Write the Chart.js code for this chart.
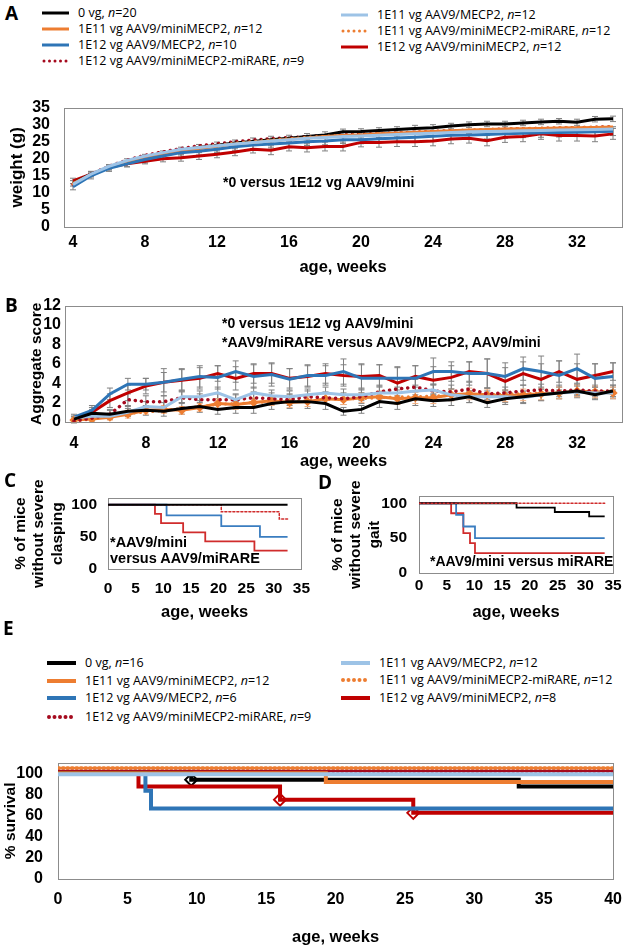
<!DOCTYPE html>
<html>
<head>
<meta charset="utf-8">
<script src="https://cdn.jsdelivr.net/npm/chart.js@4.4.1/dist/chart.umd.min.js"></script>
<style>
  body { margin: 0; background: #fff; }
  #fig { position: relative; width: 633px; height: 947px; overflow: hidden; background: #fff; }
  #fig canvas { position: absolute; }
  .letter { position: absolute; font-family: "Open Sans", sans-serif; font-weight: bold; font-size: 19px; line-height: 22px; }
  .leg { position: absolute; font-family: "Open Sans", sans-serif; font-size: 12.5px; line-height: 16px; white-space: nowrap; }
  .leg svg { position: absolute; }
  .note { position: absolute; font-family: "Liberation Sans", Arial, sans-serif; font-weight: bold; font-size: 14px; line-height: 16px; white-space: nowrap; }
</style>
</head>
<body>
<div id="fig"></div>
<script>
// series: 0 vg, 1E11 mini, 1E12 MECP2, 1E12 miRARE, 1E11 MECP2, 1E11 miRARE, 1E12 mini
const seriesNames = ["0 vg", "1E11 vg AAV9/miniMECP2", "1E12 vg AAV9/MECP2", "1E12 vg AAV9/miniMECP2-miRARE",
                     "1E11 vg AAV9/MECP2", "1E11 vg AAV9/miniMECP2-miRARE", "1E12 vg AAV9/miniMECP2"];
const nWeight = [20, 12, 10, 9, 12, 12, 12];
const nSurvival = [16, 12, 6, 9, 12, 12, 8];
const seriesColors = ["#000000", "#ED7D31", "#2E75B6", "#A50A1E", "#9DC3E6", "#ED7D31", "#C00000"];
const seriesDotted = [false, false, false, true, false, true, false];

// A: weight (g), weeks 4..34
const weeks = [4,5,6,7,8,9,10,11,12,13,14,15,16,17,18,19,20,21,22,23,24,25,26,27,28,29,30,31,32,33,34];
const weekTicks = [4, 8, 12, 16, 20, 24, 28, 32];
const weightTicks = [0, 5, 10, 15, 20, 25, 30, 35];
const wBlack = [12.8,15.5,17.5,19.2,20.5,21.5,22.5,23.3,24.0,24.6,25.1,25.6,26.0,26.5,27.0,27.9,28.0,28.3,28.6,28.9,29.1,29.6,30.0,30.2,30.2,30.5,30.8,31.0,30.7,31.6,31.7];
const wOrange = [12.8,15.3,17.5,19.0,20.3,21.3,22.3,23.0,23.7,24.3,24.8,25.3,25.7,26.1,26.5,26.8,27.0,27.3,27.5,27.8,28.0,28.2,28.4,28.6,28.7,28.8,28.9,29.0,29.1,29.2,29.3];
const wBlue = [11.8,15.0,17.2,18.5,19.8,20.8,21.8,22.2,22.8,23.5,24.0,24.3,24.6,25.0,25.2,25.6,25.6,25.9,26.1,26.3,26.6,26.9,27.0,27.1,27.3,27.5,27.6,27.7,27.8,27.9,28.1];
const wDotRed = [12.5,15.5,17.8,19.6,21.0,22.0,23.0,23.8,24.4,25.0,25.5,25.9,26.2,26.5,26.8,27.0,27.2,27.4,27.6,27.8,28.0,28.2,28.3,28.5,28.7,28.8,28.9,29.0,29.1,29.2,29.4];
const wLightBlue = [12.5,15.5,17.8,19.5,20.8,21.8,22.8,23.3,23.8,24.3,24.8,25.2,25.6,26.0,26.2,26.5,26.7,26.9,27.1,27.3,27.5,27.7,27.9,28.0,28.1,28.2,28.3,28.4,28.5,28.6,28.7];
const wDotOrange = [12.6,15.4,17.6,19.3,20.6,21.6,22.6,23.4,24.0,24.6,25.1,25.5,25.9,26.3,26.6,26.9,27.1,27.4,27.6,27.8,28.0,28.2,28.4,28.6,28.7,28.9,29.0,29.1,29.2,29.3,29.4];
const wRed = [13.5,15.5,17.5,18.5,19.3,20.0,20.3,20.8,21.3,22.0,22.8,22.5,23.5,23.2,23.6,23.6,24.8,24.8,25.0,25.0,25.2,25.8,26.0,25.3,26.3,26.5,27.3,26.8,26.8,26.7,27.3];
const wErrBlack = [0.8,0.8,0.7,0.8,0.8,0.8,0.9,0.9,0.9,0.9,1.0,1.0,0.9,0.9,0.9,0.8,0.8,0.8,0.8,0.9,0.9,0.8,0.8,0.8,0.8,0.8,0.8,0.8,0.9,0.8,0.8];
const wErrBlue = [0.9,0.9,0.9,0.9,1.0,1.0,1.0,1.1,1.0,1.0,1.0,1.1,1.1,1.1,1.1,1.1,1.2,1.2,1.2,1.2,1.2,1.3,1.3,1.3,1.3,1.3,1.3,1.3,1.3,1.3,1.3];
const wErrRed = [0.8,0.8,0.8,0.8,0.8,0.9,1.0,1.0,1.0,1.1,1.1,1.3,1.2,1.2,1.3,1.3,1.3,1.4,1.4,1.4,1.4,1.4,1.4,1.5,1.5,1.5,1.6,1.6,1.6,1.7,1.6];

// B: aggregate score, weeks 4..34
const scoreTicks = [0, 2, 4, 6, 8, 10, 12];
const sBlack = [0.3,0.9,0.8,1.1,1.2,1.1,1.4,1.6,1.3,1.5,1.5,1.9,2.1,2.1,1.9,1.1,1.3,2.1,1.9,2.4,2.2,2.3,2.6,2.0,2.4,2.6,2.8,3.0,3.2,2.8,3.2];
const sOrange = [0.2,0.3,0.5,0.8,1.2,1.3,1.2,1.5,1.9,1.8,2.0,2.2,2.0,2.1,2.4,2.3,2.5,2.6,2.4,2.5,2.5,2.8,2.9,2.8,2.7,2.8,2.9,3.0,3.2,3.1,3.0];
const sBlue = [0.5,1.2,2.9,3.9,3.9,4.1,4.4,4.7,4.6,5.2,4.7,4.9,4.4,4.8,4.8,5.2,4.5,4.5,4.5,4.5,5.2,5.2,5.0,5.0,4.7,5.5,5.2,4.8,5.5,4.5,4.7];
const sDotRed = [0.1,0.4,0.8,2.3,2.1,2.1,2.5,2.3,2.3,2.3,2.5,2.4,2.3,2.6,2.5,2.4,2.6,3.1,3.4,3.6,3.2,3.1,3.4,2.9,3.0,3.2,3.3,3.2,3.3,3.2,3.2];
const sLightBlue = [0.4,0.6,0.6,1.0,1.6,1.5,2.6,2.6,3.0,2.3,3.0,2.7,2.6,2.8,3.0,2.8,2.8,3.0,3.0,3.2,3.3,2.8,2.6,2.6,2.6,2.5,2.8,3.0,3.1,3.0,3.0];
const sDotOrange = [0.1,0.3,0.6,0.9,1.0,1.2,1.4,1.6,1.8,1.9,2.0,2.1,2.2,2.2,2.3,2.4,2.4,2.5,2.6,2.6,2.7,2.7,2.8,2.8,2.9,2.9,3.0,3.0,3.1,3.1,3.2];
const sRed = [0.3,1.0,2.2,3.0,3.7,4.1,4.3,4.5,5.0,4.5,5.0,5.0,4.5,4.7,5.0,4.8,4.7,4.8,4.0,4.7,4.3,4.6,5.2,5.0,4.2,5.0,4.4,5.2,4.4,4.8,5.2];
const sErrBlack = [0.2,0.4,0.4,0.5,0.5,0.5,0.6,0.6,0.5,0.6,0.6,0.6,0.7,0.7,0.6,0.4,0.4,0.6,0.6,0.7,0.6,0.6,0.6,0.5,0.6,0.6,0.6,0.6,0.6,0.5,0.6];
const sErrOrange = [0.2,0.2,0.3,0.4,0.4,0.4,0.4,0.4,0.5,0.5,0.5,0.5,0.5,0.5,0.5,0.5,0.5,0.6,0.6,0.6,0.6,0.6,0.6,0.6,0.6,0.6,0.6,0.6,0.6,0.6,0.6];
const sErrBlue = [0.3,0.5,0.6,0.6,0.6,1.4,1.1,1.1,1.2,1.1,1.2,1.2,1.1,1.1,1.0,1.3,1.5,1.4,1.2,1.3,1.4,1.0,1.2,1.5,1.4,1.2,1.6,1.5,1.5,1.5,1.4];
const sErrDotRed = [0.2,0.3,0.5,0.6,0.6,0.6,0.6,0.6,0.6,0.6,0.6,0.6,0.6,0.6,0.6,0.6,0.7,0.7,0.7,0.8,0.7,0.7,0.7,0.6,0.6,0.6,0.6,0.6,0.6,0.6,0.6];
const sErrLightBlue = [0.2,0.3,0.3,0.4,0.5,0.5,0.6,0.6,0.6,0.5,0.6,0.6,0.6,0.6,0.6,0.6,0.6,0.6,0.6,0.6,0.6,0.6,0.6,0.6,0.6,0.6,0.6,0.6,0.6,0.6,0.6];
const sErrRed = [0.3,0.5,0.7,0.8,0.8,1.0,1.1,1.1,0.8,1.2,1.0,1.0,1.0,1.1,1.0,1.1,1.2,1.1,1.6,1.1,1.4,1.2,1.0,1.5,1.4,1.2,1.6,1.1,1.6,1.2,0.9];

// C: % without severe clasping (step curves)
const pctTicks = [0, 50, 100];
const ageTicks35 = [0, 5, 10, 15, 20, 25, 30, 35];
const clBlackX = [0, 32.5];                       const clBlackY = [100, 100];
const clDotRedX = [0, 20.5, 31, 32.5];            const clDotRedY = [100, 88.9, 77.8, 77.8];
const clBlueX = [0, 10.6, 20.5, 27.5, 32.5];      const clBlueY = [100, 83.3, 66.7, 50, 50];
const clRedX = [0, 8.5, 9.6, 13.6, 17.6, 26.5, 32.5]; const clRedY = [100, 85.7, 71.4, 57.1, 42.9, 28.6, 28.6];

// D: % without severe gait
const gtBlackX = [0, 17.6, 24.5, 30.7, 33.5];     const gtBlackY = [100, 93.75, 87.5, 81.25, 81.25];
const gtDotRedX = [0, 33.5];                      const gtDotRedY = [100, 100];
const gtBlueX = [0, 6.7, 8.0, 10.1, 33.5];        const gtBlueY = [100, 83.3, 66.7, 50, 50];
const gtRedX = [0, 5.8, 8.0, 9.2, 10.1, 33.5];    const gtRedY = [100, 85.7, 57.1, 42.9, 28.6, 28.6];

// E: % survival
const survTicks = [0, 20, 40, 60, 80, 100];
const ageTicks40 = [0, 5, 10, 15, 20, 25, 30, 35, 40];
const svBlackX = [0, 9.6, 33.2, 40];              const svBlackY = [100, 93.75, 87.5, 87.5];
const svOrangeX = [0, 19.3, 40];                  const svOrangeY = [100, 91.7, 91.7];
const svBlueX = [0, 6.3, 6.7, 40];                const svBlueY = [100, 83.3, 66.7, 66.7];
const svDotRedX = [0, 40];                        const svDotRedY = [102, 102];
const svLightBlueX = [0, 40];                     const svLightBlueY = [99, 99];
const svDotOrangeX = [0, 40];                     const svDotOrangeY = [105, 105];
const svRedX = [0, 5.8, 16, 25.6, 40];            const svRedY = [100, 87.5, 75, 62.5, 62.5];
const censorBlack = [[9.6, 93.75]];
const censorRed = [[16, 75], [25.6, 62.5]];

Chart.defaults.font.family = '"Liberation Sans", Arial, sans-serif';
Chart.defaults.font.weight = 'bold';
Chart.defaults.color = '#000';

const fig = document.getElementById('fig');

const pts = (xs, ys) => xs.map((x, i) => ({ x: x, y: ys[i] }));

// grey whiskers from the y scale
const errorBars = {
    id: 'errorBars',
    beforeDatasetsDraw(chart) {
        const ctx = chart.ctx;
        const ys = chart.scales.y;
        chart.data.datasets.forEach((ds, i) => {
            if (!ds.errors) return;
            const meta = chart.getDatasetMeta(i);
            ctx.save();
            ctx.strokeStyle = ds.errorColor || '#808080';
            ctx.lineWidth = 1;
            meta.data.forEach((p, j) => {
                const v = ds.data[j].y;
                const t = ys.getPixelForValue(v + ds.errors[j]);
                const b = ys.getPixelForValue(v - ds.errors[j]);
                ctx.beginPath();
                ctx.moveTo(p.x, t); ctx.lineTo(p.x, b);
                ctx.moveTo(p.x - 3, t); ctx.lineTo(p.x + 3, t);
                ctx.moveTo(p.x - 3, b); ctx.lineTo(p.x + 3, b);
                ctx.stroke();
            });
            ctx.restore();
        });
    }
};

const frame = {
    id: 'frame',
    beforeDatasetsDraw(chart) {
        const a = chart.chartArea;
        const ctx = chart.ctx;
        ctx.save();
        ctx.strokeStyle = '#8c8c8c';
        ctx.lineWidth = 1;
        ctx.strokeRect(Math.round(a.left) + 0.5, Math.round(a.top) + 0.5,
                       Math.round(a.right - a.left), Math.round(a.bottom - a.top));
        ctx.restore();
    }
};

function makePanel(p) {
    const c = document.createElement('canvas');
    c.width = p.box.w; c.height = p.box.h;
    c.style.left = p.box.x + 'px'; c.style.top = p.box.y + 'px';
    c.style.width = p.box.w + 'px'; c.style.height = p.box.h + 'px';
    fig.appendChild(c);
    new Chart(c, {
        type: 'line',
        data: { datasets: p.datasets },
        plugins: [frame, errorBars],
        options: {
            responsive: false,
            animation: false,
            devicePixelRatio: 1,
            layout: { padding: { left: 0, bottom: 0, top: p.area.top - p.box.y,
                                 right: p.box.x + p.box.w - p.area.right } },
            plugins: { legend: { display: false }, tooltip: { enabled: false } },
            elements: { point: { radius: 0 }, line: { tension: 0 } },
            scales: {
                x: {
                    type: 'linear', min: p.xMin, max: p.xMax,
                    grid: { display: false, drawTicks: false }, border: { display: false },
                    afterBuildTicks: s => { s.ticks = p.xTicks.map(v => ({ value: v })); },
                    afterFit: s => { s.height = p.box.y + p.box.h - p.area.bottom; },
                    ticks: { padding: p.xPad, autoSkip: false, maxRotation: 0, font: { size: p.tickSize } },
                    title: { display: true, text: 'age, weeks', font: { size: p.xTitleSize },
                             padding: { top: 0, bottom: 0 } }
                },
                y: {
                    min: p.yMin, max: p.yMax,
                    grid: { display: false, drawTicks: false }, border: { display: false },
                    afterBuildTicks: s => { s.ticks = p.yTicks.map(v => ({ value: v })); },
                    afterFit: s => { s.width = p.area.left - p.box.x; },
                    ticks: { padding: p.yPad, autoSkip: false, font: { size: p.tickSize } },
                    title: { display: true, text: p.yTitle, font: { size: p.yTitleSize, lineHeight: p.yTitleLH || 1.2 },
                             padding: { top: p.yTitlePad, bottom: 0 } }
                }
            }
        }
    });
}

function lineSet(xs, ys, color, width, dotted, extra) {
    const ds = {
        data: pts(xs, ys), borderColor: color, backgroundColor: color, borderWidth: width,
        pointRadius: 0, fill: false
    };
    if (dotted) { ds.borderDash = dotted; ds.borderCapStyle = 'round'; }
    return Object.assign(ds, extra || {});
}

// ---- A
makePanel({
    box: { x: 0, y: 84, w: 633, h: 193 },
    area: { left: 64, top: 92, right: 622, bottom: 227 },
    xMin: 3.5, xMax: 34.5, xTicks: weekTicks, yMin: 0, yMax: 35, yTicks: weightTicks,
    tickSize: 16, xTitleSize: 16.5, yTitle: 'weight (g)', yTitleSize: 17, yTitlePad: 7, xPad: 6, yPad: 14,
    datasets: [
        lineSet(weeks, wLightBlue, seriesColors[4], 3, null),
        lineSet(weeks, wBlue, seriesColors[2], 3, null, { errors: wErrBlue }),
        lineSet(weeks, wOrange, seriesColors[1], 3, null),
        lineSet(weeks, wDotOrange, seriesColors[5], 3, [0.1, 6]),
        lineSet(weeks, wBlack, seriesColors[0], 3, null, { errors: wErrBlack }),
        lineSet(weeks, wRed, seriesColors[6], 3, null, { errors: wErrRed }),
        lineSet(weeks, wDotRed, seriesColors[3], 3.5, [0.1, 6])
    ]
});

// ---- B
makePanel({
    box: { x: 0, y: 292, w: 633, h: 179 },
    area: { left: 65, top: 302, right: 622, bottom: 422 },
    xMin: 3.5, xMax: 34.5, xTicks: weekTicks, yMin: 0, yMax: 12, yTicks: scoreTicks,
    tickSize: 16, xTitleSize: 16.5, yTitle: 'Aggregate score', yTitleSize: 15.5, yTitlePad: 27, xPad: 12, yPad: 4,
    datasets: [
        lineSet(weeks, sBlack, seriesColors[0], 3, null, { errors: sErrBlack }),
        lineSet(weeks, sLightBlue, seriesColors[4], 3, null, { errors: sErrLightBlue }),
        lineSet(weeks, sDotRed, seriesColors[3], 3.5, [0.1, 6], { errors: sErrDotRed }),
        lineSet(weeks, sDotOrange, seriesColors[5], 3, [0.1, 6]),
        lineSet(weeks, sOrange, seriesColors[1], 3, null,
                { errors: sErrOrange, errorColor: '#F4B183', pointRadius: 2.5, pointStyle: 'rectRot' }),
        lineSet(weeks, sBlue, seriesColors[2], 3, null, { errors: sErrBlue }),
        lineSet(weeks, sRed, seriesColors[6], 3, null, { errors: sErrRed })
    ]
});

// ---- C
makePanel({
    box: { x: 0, y: 478, w: 320, h: 144 },
    area: { left: 108, top: 484, right: 315, bottom: 569 },
    xMin: 0, xMax: 35, xTicks: ageTicks35, yMin: 0, yMax: 110, yTicks: pctTicks,
    tickSize: 15.5, xTitleSize: 16.5, yTitle: ['% of mice', 'without severe', 'clasping'], yTitleSize: 15.5,
    yTitleLH: 1.17, yTitlePad: 12, xPad: 10, yPad: 11,
    datasets: [
        lineSet(clBlackX, clBlackY, '#000000', 1.8, null, { stepped: 'before' }),
        lineSet(clDotRedX, clDotRedY, '#D02C2C', 1.5, [2, 2], { stepped: 'before' }),
        lineSet(clBlueX, clBlueY, '#3A7DC0', 1.8, null, { stepped: 'before' }),
        lineSet(clRedX, clRedY, '#D02C2C', 1.8, null, { stepped: 'before' })
    ]
});

// ---- D
makePanel({
    box: { x: 320, y: 475, w: 313, h: 147 },
    area: { left: 419, top: 481, right: 613, bottom: 573 },
    xMin: 0, xMax: 35, xTicks: ageTicks35, yMin: 0, yMax: 110, yTicks: pctTicks,
    tickSize: 15.5, xTitleSize: 16.5, yTitle: ['% of mice', 'without severe', 'gait'], yTitleSize: 15.5,
    yTitleLH: 1.17, yTitlePad: 9, xPad: 3, yPad: 12,
    datasets: [
        lineSet(gtDotRedX, gtDotRedY, '#D02C2C', 1.5, [2, 2], { stepped: 'before' }),
        lineSet(gtBlackX, gtBlackY, '#000000', 1.8, null, { stepped: 'before' }),
        lineSet(gtBlueX, gtBlueY, '#3A7DC0', 1.8, null, { stepped: 'before' }),
        lineSet(gtRedX, gtRedY, '#D02C2C', 1.8, null, { stepped: 'before' })
    ]
});

// ---- E
const marker = (xy, color) => ({
    type: 'scatter', data: xy.map(p => ({ x: p[0], y: p[1] })), showLine: false,
    pointStyle: 'rectRot', pointRadius: 6, pointBorderWidth: 2,
    pointBorderColor: color, pointBackgroundColor: '#fff'
});
makePanel({
    box: { x: 0, y: 738, w: 633, h: 209 },
    area: { left: 58, top: 746, right: 620, bottom: 879 },
    xMin: 0, xMax: 40, xTicks: ageTicks40, yMin: 0, yMax: 110, yTicks: survTicks,
    tickSize: 16, xTitleSize: 16.5, yTitle: '% survival', yTitleSize: 15.5, yTitlePad: 1, xPad: 11, yPad: 15,
    datasets: [
        lineSet(svLightBlueX, svLightBlueY, seriesColors[4], 4, null, { stepped: 'before' }),
        lineSet(svOrangeX, svOrangeY, seriesColors[1], 4, null, { stepped: 'before' }),
        lineSet(svBlackX, svBlackY, seriesColors[0], 4, null, { stepped: 'before' }),
        lineSet(svBlueX, svBlueY, seriesColors[2], 4, null, { stepped: 'before' }),
        lineSet(svRedX, svRedY, seriesColors[6], 4, null, { stepped: 'before' }),
        lineSet(svDotOrangeX, svDotOrangeY, seriesColors[5], 3.5, [1.5, 3]),
        lineSet(svDotRedX, svDotRedY, seriesColors[3], 3.5, [1.5, 3]),
        marker(censorBlack, '#000000'),
        marker(censorRed, seriesColors[6])
    ]
});

// ---- legends, letters, notes
function legendItem(i, n, x, y, swW, swH) {
    const d = document.createElement('div');
    d.className = 'leg';
    d.style.left = x + 'px';
    d.style.top = (y - 8) + 'px';
    const dash = seriesDotted[i] ? ' stroke-dasharray="0 5.5" stroke-linecap="round"' : '';
    d.innerHTML = '<svg width="' + swW + '" height="8" style="left:0;top:4px">' +
        '<line x1="' + (seriesDotted[i] ? 2 : 0) + '" y1="4" x2="' + swW + '" y2="4" stroke="' + seriesColors[i] +
        '" stroke-width="' + swH + '"' + dash + '/></svg>' +
        '<span style="margin-left:' + (swW + 9) + 'px">' + seriesNames[i] + ', <i>n</i>=' + n[i] + '</span>';
    fig.appendChild(d);
}
const legLeft = [0, 1, 2, 3], legRight = [4, 5, 6];
[13, 29, 45, 61].forEach((y, k) => legendItem(legLeft[k], nWeight, 42, y, 27, 3));
[15, 31, 47].forEach((y, k) => legendItem(legRight[k], nWeight, 341, y, 27, 3));
[663, 681, 698, 717].forEach((y, k) => legendItem(legLeft[k], nSurvival, 47, y, 29, 4));
[663, 680, 698].forEach((y, k) => legendItem(legRight[k], nSurvival, 341, y, 29, 4));

function addText(cls, txt, x, y, extra) {
    const d = document.createElement('div');
    d.className = cls;
    d.textContent = txt;
    d.style.left = x + 'px';
    d.style.top = y + 'px';
    if (extra) Object.assign(d.style, extra);
    fig.appendChild(d);
}
addText('letter', 'A', 5, 2);
addText('letter', 'B', 5, 294);
addText('letter', 'C', 4, 469);
addText('letter', 'D', 318, 471);
addText('letter', 'E', 3, 617);

addText('note', '*0 versus 1E12 vg AAV9/mini', 223, 174);
addText('note', '*0 versus 1E12 vg AAV9/mini', 222, 315);
addText('note', '*AAV9/miRARE versus AAV9/MECP2, AAV9/mini', 222, 334);
addText('note', '*AAV9/mini', 110, 534, { fontSize: '14.5px' });
addText('note', 'versus AAV9/miRARE', 110, 550, { fontSize: '14.5px' });
addText('note', '*AAV9/mini versus miRARE', 430, 553);
</script>
</body>
</html>
